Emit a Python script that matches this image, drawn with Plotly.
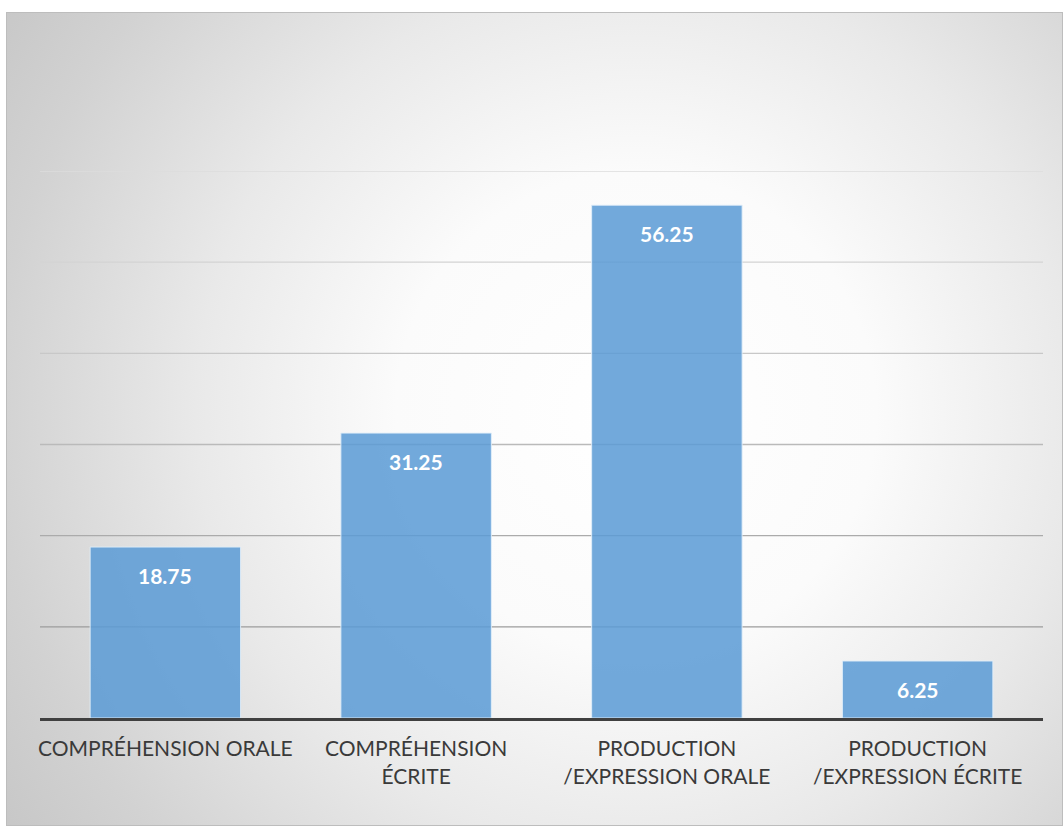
import base64
import plotly.graph_objects as go

categories = ["COMPRÉHENSION ORALE", "COMPRÉHENSION<br>ÉCRITE",
              "PRODUCTION<br>/EXPRESSION ORALE", "PRODUCTION<br>/EXPRESSION ÉCRITE"]
values = [18.75, 31.25, 56.25, 6.25]
value_labels = ["18.75", "31.25", "56.25", "6.25"]
grid_values = [10, 20, 30, 40, 50, 60]
grid_colors = ["#9c9c9c", "#ababab", "#bababa", "#c8c8c8", "#d3d3d3", "#dddddd"]

W, H = 1063, 826
ML, MR, MT, MB = 40, 20, 171, 108
pw, ph = W - ML - MR, H - MT - MB

svg = f'''<svg xmlns="http://www.w3.org/2000/svg" width="1057" height="814" viewBox="0 0 1057 814">
<defs><radialGradient id="g" gradientUnits="userSpaceOnUse" cx="630" cy="400" r="800">
<stop offset="0" stop-color="#ffffff"/><stop offset="0.3" stop-color="#fbfbfb"/>
<stop offset="0.55" stop-color="#e9e9e9"/><stop offset="0.8" stop-color="#d2d2d2"/>
<stop offset="1" stop-color="#c3c3c3"/></radialGradient></defs>
<rect x="0" y="0" width="1057" height="814" fill="url(#g)"/>
<rect x="0.5" y="0.5" width="1056" height="813" fill="none" stroke="#bdbdbd" stroke-width="1"/>
</svg>'''
src = "data:image/svg+xml;base64," + base64.b64encode(svg.encode()).decode()

fig = go.Figure()
fig.add_trace(go.Bar(
    x=categories, y=values, width=0.6,
    marker=dict(color="rgba(91,155,213,0.86)",
                line=dict(color="rgba(225,238,250,0.9)", width=1)),
    hoverinfo="skip",
))

for cat, v, lab in zip(categories, values, value_labels):
    fig.add_annotation(x=cat, y=v, text=f"<b>{lab}</b>", showarrow=False,
                       yshift=-28, font=dict(family="Lato", size=21, color="white"))

for gv, gc in zip(grid_values, grid_colors):
    fig.add_shape(type="line", xref="paper", yref="y", x0=0, x1=1, y0=gv, y1=gv,
                  line=dict(color=gc, width=1.3), layer="below")

fig.add_layout_image(dict(
    source=src, xref="paper", yref="paper",
    x=(6 - ML) / pw, y=(H - MB - 12) / ph,
    sizex=(W - 6) / pw, sizey=(H - 12) / ph,
    xanchor="left", yanchor="top", sizing="stretch", layer="below"))

fig.update_layout(
    width=W, height=H,
    margin=dict(l=ML, r=MR, t=MT, b=MB, pad=0),
    paper_bgcolor="white", plot_bgcolor="rgba(0,0,0,0)",
    showlegend=False, bargap=0.4,
    font=dict(family="Lato", color="#404040", size=21),
)
fig.update_xaxes(showgrid=False, showline=True, linecolor="#404040", linewidth=3,
                 ticks="", tickfont=dict(family="Lato", size=21, color="#3a3a3a"),
                 ticklabelstandoff=10, tickangle=0, fixedrange=True)
fig.update_yaxes(range=[0, 60], showgrid=False, showticklabels=False, zeroline=False,
                 fixedrange=True)

fig.write_html("out.html")
